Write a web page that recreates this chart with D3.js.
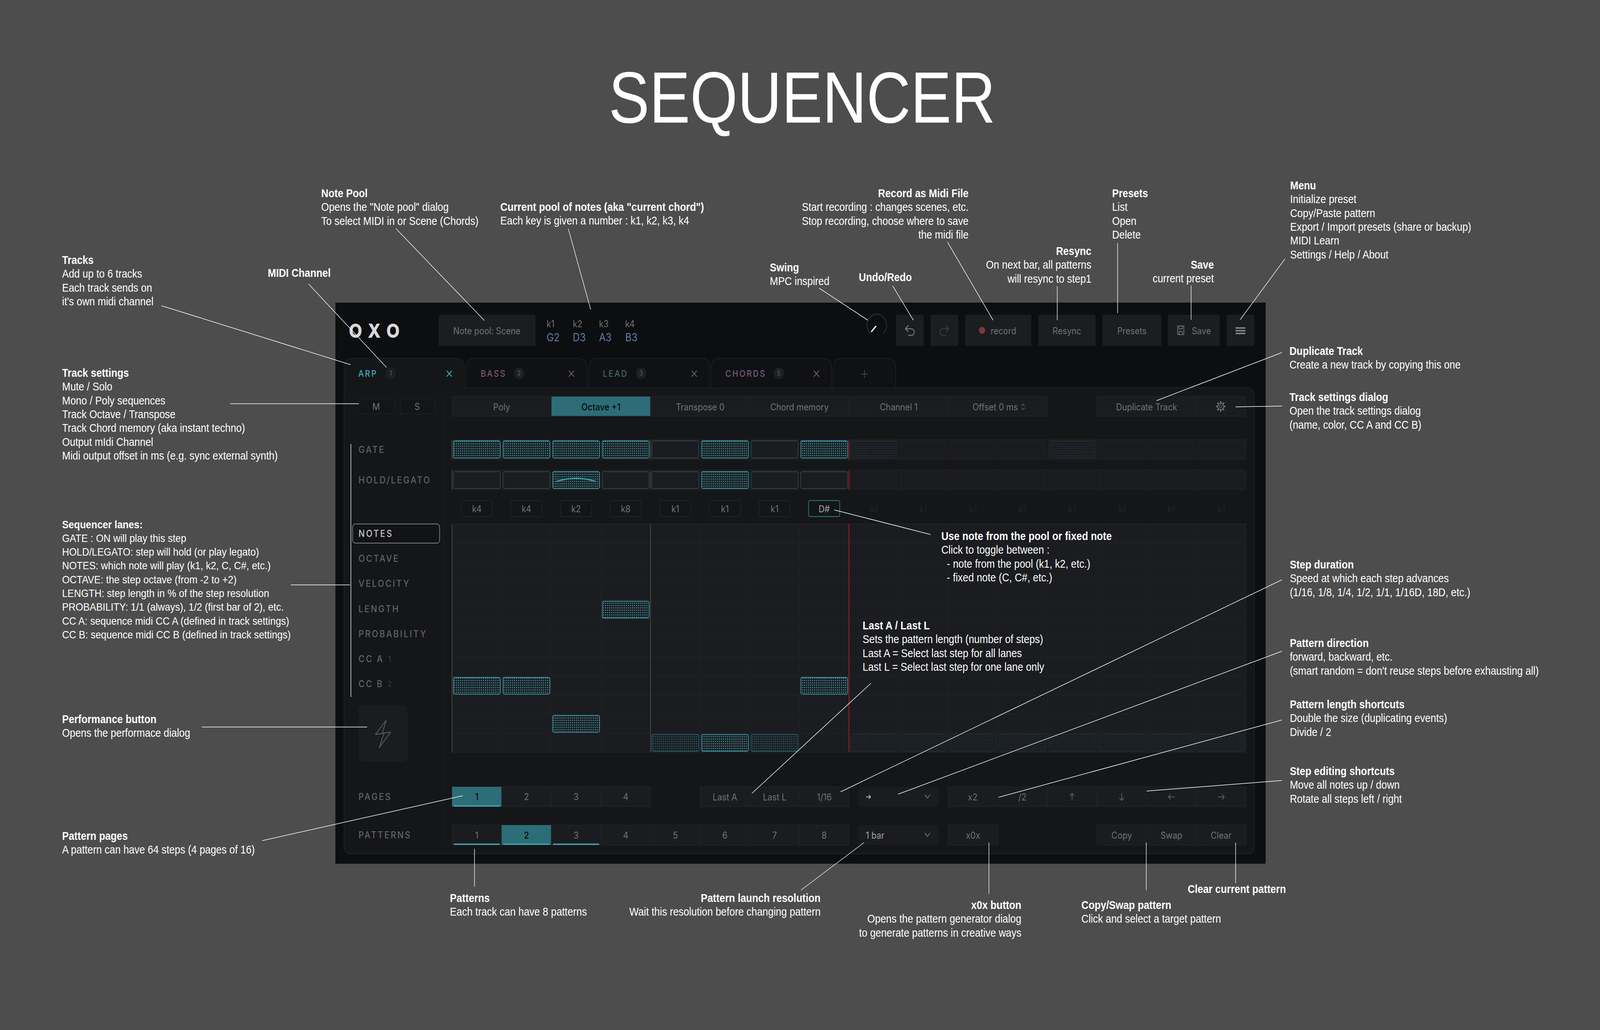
<!DOCTYPE html>
<html>
<head>
<meta charset="utf-8">
<script src="https://cdn.jsdelivr.net/npm/d3@7"></script>
<style>
  html, body { margin: 0; padding: 0; width: 100%; height: 100%; overflow: hidden; background: #4d4d4d; }
  #chart, svg { display: block; width: 100vw; height: 100vh; }
</style>
</head>
<body>
<div id="chart"></div>
<script>
// step data, one value per step of the first page
const gateOn = [1, 1, 1, 1, 0, 1, 0, 1]
const gateGhost = [8, 12]
const holdOn = [0, 0, 1, 0, 0, 1, 0, 0]
const legatoStep = 2
const noteKeys = ["k4", "k4", "k2", "k8", "k1", "k1", "k1", "D#"]
const noteRows = [8, 8, 10, 4, 11, 11, 11, 8]
const noteDim = [0, 0, 0, 0, 1, 0, 1, 0]
const ghostKey = "k1"
const ghostRow = 11

const poolKeys = ["k1", "k2", "k3", "k4"]
const poolNotes = ["G2", "D3", "A3", "B3"]
const trackNames = ["ARP", "BASS", "LEAD", "CHORDS"]
const trackNums = ["1", "2", "3", "5"]
const trackColors = ["#3fb0bc", "#7d5a68", "#3f6b62", "#7a5785"]
const modeLabels = ["Poly", "Octave +1", "Transpose 0", "Chord memory", "Channel 1", "Offset 0 ms"]
const laneLabels = ["NOTES", "OCTAVE", "VELOCITY", "LENGTH", "PROBABILITY", "CC A", "CC B"]
const pageLabels = ["1", "2", "3", "4"]
const patternLabels = ["1", "2", "3", "4", "5", "6", "7", "8"]
const usedPatterns = [0, 1, 2]

const annotations = [
  ["Tracks", "Add up to 6 tracks", "Each track sends on", "it's own midi channel"],
  ["Track settings", "Mute / Solo", "Mono / Poly sequences", "Track Octave / Transpose", "Track Chord memory (aka instant techno)", "Output mIdi Channel", "Midi output offset in ms (e.g. sync external synth)"],
  ["MIDI Channel"],
  ["Note Pool", "Opens the \"Note pool\" dialog", "To select MIDI in or Scene (Chords)"],
  ["Current pool of notes (aka \"current chord\")", "Each key is given a number : k1, k2, k3, k4"],
  ["Swing", "MPC inspired"],
  ["Undo/Redo"],
  ["Record as Midi File", "Start recording : changes scenes, etc.", "Stop recording, choose where to save", "the midi file"],
  ["Resync", "On next bar, all patterns", "will resync to step1"],
  ["Presets", "List", "Open", "Delete"],
  ["Save", "current preset"],
  ["Menu", "Initialize preset", "Copy/Paste pattern", "Export / Import presets (share or backup)", "MIDI Learn", "Settings / Help / About"],
  ["Duplicate Track", "Create a new track by copying this one"],
  ["Track settings dialog", "Open the track settings dialog", "(name, color, CC A and CC B)"],
  ["Sequencer lanes:", "GATE : ON will play this step", "HOLD/LEGATO: step will hold (or play legato)", "NOTES: which note will play (k1, k2, C, C#, etc.)", "OCTAVE: the step octave (from -2 to +2)", "LENGTH: step length in % of the step resolution", "PROBABILITY: 1/1 (always), 1/2 (first bar of 2), etc.", "CC A: sequence midi CC A (defined in track settings)", "CC B: sequence midi CC B (defined in track settings)"],
  ["Performance button", "Opens the performace dialog"],
  ["Pattern pages", "A pattern can have 64 steps (4 pages of 16)"],
  ["Patterns", "Each track can have 8 patterns"],
  ["Pattern launch resolution", "Wait this resolution before changing pattern"],
  ["x0x button", "Opens the pattern generator dialog", "to generate patterns in creative ways"],
  ["Copy/Swap pattern", "Click and select a target pattern"],
  ["Clear current pattern"],
  ["Step duration", "Speed at which each step advances", "(1/16, 1/8, 1/4, 1/2, 1/1, 1/16D, 18D, etc.)"],
  ["Pattern direction", "forward, backward, etc.", "(smart random = don't reuse steps before exhausting all)"],
  ["Pattern length shortcuts", "Double the size (duplicating events)", "Divide / 2"],
  ["Step editing shortcuts", "Move all notes up / down", "Rotate all steps left / right"],
  ["Use note from the pool or fixed note", "Click to toggle between :", "\u00a0\u00a0- note from the pool (k1, k2, etc.)", "\u00a0\u00a0- fixed note (C, C#, etc.)"],
  ["Last A / Last L", "Sets the pattern length (number of steps)", "Last A = Select last step for all lanes", "Last L = Select last step for one lane only"],
]

// where each annotation above sits: x, centre of first line, anchor
const annotationSpots = [
  [180, 666, "start"], [180, 955, "start"], [776, 699, "start"], [931, 495, "start"], [1450, 530, "start"],
  [2231, 685, "start"], [2489, 710, "start"], [2807, 495, "end"], [3163, 643, "end"], [3223, 495, "start"],
  [3518, 678, "end"], [3739, 475, "start"], [3737, 899, "start"], [3737, 1017, "start"], [180, 1343, "start"],
  [180, 1842, "start"], [180, 2141, "start"], [1304, 2300, "start"], [2378, 2300, "end"], [2960, 2318, "end"],
  [3134, 2318, "start"], [3442, 2277, "start"], [3738, 1446, "start"], [3738, 1647, "start"], [3738, 1804, "start"],
  [3738, 1975, "start"], [2728, 1373, "start"], [2500, 1602, "start"],
]

const leaders = [
  [468, 783, 1016, 934], [894, 727, 1120, 941], [1147, 585, 1404, 821], [667, 1034, 1040, 1034],
  [1647, 586, 1712, 793], [2374, 738, 2515, 820], [2587, 732, 2647, 820], [2746, 620, 2878, 820],
  [3064, 733, 3064, 820], [3239, 622, 3239, 802], [3452, 731, 3452, 819], [3724, 663, 3594, 819],
  [3715, 903, 3352, 1026], [3716, 1040, 3581, 1042], [2418, 1306, 2697, 1369], [2524, 1750, 2179, 2032],
  [3715, 1485, 2436, 2028], [3715, 1668, 2603, 2034], [3715, 1844, 2894, 2042], [3715, 1999, 3323, 2026],
  [1341, 2038, 760, 2153], [843, 1498, 1014, 1498], [1017, 1137, 1017, 1785], [585, 1862, 1064, 1862],
  [1375, 2174, 1375, 2271], [2504, 2158, 2321, 2280], [2866, 2158, 2866, 2289], [3322, 2158, 3322, 2280],
  [3581, 2158, 3581, 2262],
]

const width = 4637
const height = 2638

const teal = "#3ba6b2"
const tealFill = "#2c6d77"
const uiText = "#717276"
const cellBg = "#1b1c20"
const cellLine = "#232428"
const uiFont = "Inter, 'Noto Sans', sans-serif"
const noteFont = "'Liberation Sans', Arial, sans-serif"

const stepX = d3.scaleLinear().domain([0, 16]).range([1310, 3611])
const rowY = d3.scaleLinear().domain([0, 12]).range([1342, 1927])

// the browser window can be narrower than the chart, so the drawing always fills it
const svg = d3
  .select("#chart")
  .append("svg")
  .attr("viewBox", `0 0 ${width} ${height}`)
  .attr("preserveAspectRatio", "none")

const defs = svg.append("defs")
function dotPattern(id, color) {
  const p = defs
    .append("pattern")
    .attr("id", id)
    .attr("width", 6)
    .attr("height", 6)
    .attr("patternUnits", "userSpaceOnUse")
  p.append("circle").attr("cx", 3).attr("cy", 3).attr("r", 1.4).attr("fill", color)
}
dotPattern("dots", "#4ab5c1")
dotPattern("dotsMid", "#2b6f78")
dotPattern("dotsGhost", "#22343a")

svg.append("rect").attr("width", width).attr("height", height).attr("fill", "#4d4d4d")

svg
  .append("text")
  .attr("x", 1764)
  .attr("y", 314)
  .attr("font-family", noteFont)
  .attr("font-size", 186)
  .attr("textLength", 1121)
  .attr("lengthAdjust", "spacingAndGlyphs")
  .attr("fill", "#fff")
  .text("SEQUENCER")

// main window
svg.append("rect").attr("x", 972).attr("y", 775).attr("width", 2696).attr("height", 1437).attr("fill", "#0d0e10")

function uiLabel(parent, x, y, label, opts = {}) {
  return parent
    .append("text")
    .attr("x", x)
    .attr("y", y)
    .attr("dominant-baseline", "central")
    .attr("text-anchor", opts.anchor || "middle")
    .attr("font-family", uiFont)
    .attr("font-size", opts.size || 24)
    .attr("font-weight", opts.weight || 400)
    .attr("letter-spacing", opts.spacing || 0)
    .attr("fill", opts.fill || uiText)
    .text(label)
}

function box(parent, x0, y0, x1, y1, opts = {}) {
  return parent
    .append("rect")
    .attr("x", x0)
    .attr("y", y0)
    .attr("width", x1 - x0)
    .attr("height", y1 - y0)
    .attr("rx", opts.rx === undefined ? 3 : opts.rx)
    .attr("fill", opts.fill || cellBg)
    .attr("stroke", opts.stroke || "none")
    .attr("stroke-width", opts.strokeWidth || 1.5)
}

function iconPath(parent, d, opts = {}) {
  return parent
    .append("path")
    .attr("d", d)
    .attr("fill", "none")
    .attr("stroke", opts.stroke || uiText)
    .attr("stroke-width", opts.width || 2.5)
    .attr("stroke-linecap", "round")
    .attr("stroke-linejoin", "round")
    .attr("transform", opts.at ? `translate(${opts.at[0]},${opts.at[1]})` : null)
}

const ui = svg.append("g")

// tab bar
const tabEdges = [[997, 1346], [1352, 1700], [1706, 2056], [2061, 2410], [2415, 2596]]
const tabBadgeX = [1132, 1504, 1858, 2257]
const tabPath = (x0, x1, yBottom) =>
  `M${x0},${yBottom} V942 Q${x0},918 ${x0 + 24},918 H${x1 - 24} Q${x1},918 ${x1},942 V${yBottom}`

// content panel drawn below the tabs
ui.append("rect")
  .attr("x", 997)
  .attr("y", 993)
  .attr("width", 2638)
  .attr("height", 1194)
  .attr("rx", 18)
  .attr("fill", "#151618")
  .attr("stroke", "#222327")
  .attr("stroke-width", 2)

tabEdges.forEach(([x0, x1], i) => {
  ui.append("path")
    .attr("d", tabPath(x0, x1, i === 0 ? 1000 : 993))
    .attr("fill", i === 0 ? "#151618" : "#101114")
    .attr("stroke", "#1e1f23")
    .attr("stroke-width", 2)
  if (i >= trackNames.length) {
    iconPath(ui, "M-9,0 H9 M0,-9 V9", { at: [(x0 + x1) / 2, 958], stroke: "#46474b", width: 2 })
    return
  }
  const color = trackColors[i]
  uiLabel(ui, x0 + 41, 957, trackNames[i], { anchor: "start", size: 23, weight: 500, spacing: 3.4, fill: color })
  ui.append("circle").attr("cx", tabBadgeX[i]).attr("cy", 956).attr("r", 15).attr("fill", "#1e1f23")
  uiLabel(ui, tabBadgeX[i], 956, trackNums[i], { size: 17, fill: "#5d5e62" })
  iconPath(ui, "M-7,-7 L7,7 M7,-7 L-7,7", { at: [x1 - 44, 957], stroke: color, width: 2.4 })
})

// header
uiLabel(ui, 1011, 846, "O X O", { anchor: "start", size: 50, weight: 800, spacing: 2.5, fill: "#d8d8da" })

box(ui, 1271, 806, 1552, 886).attr("fill", "#1c1d21")
uiLabel(ui, 1411, 847, "Note pool: Scene")

poolKeys.forEach((k, i) => {
  const x = 1584 + i * 76
  uiLabel(ui, x, 829, k, { anchor: "start", size: 24, fill: "#717276" })
  uiLabel(ui, x, 863, poolNotes[i], { anchor: "start", size: 28, fill: "#5d7ba8" })
})

// swing knob
const knobArc = d3.arc().innerRadius(27).outerRadius(30).startAngle((-140 * Math.PI) / 180).endAngle((140 * Math.PI) / 180)
ui.append("path").attr("d", knobArc()).attr("transform", "translate(2541,833)").attr("fill", "#1f2a36")
iconPath(ui, "M2526,849 L2538,836", { stroke: "#e6e6e6", width: 4 })

const headerButtons = [
  [2597, 2677, ""], [2697, 2777, ""], [2797, 2989, ""], [3009, 3175, "Resync"], [3195, 3366, "Presets"], [3385, 3535, ""], [3555, 3635, ""],
]
headerButtons.forEach(([x0, x1, label]) => {
  box(ui, x0, 806, x1, 886).attr("fill", "#1c1d21")
  if (label) uiLabel(ui, (x0 + x1) / 2, 847, label)
})
iconPath(ui, "M-5,-12 L-13,-4 L-5,3 M-13,-4 H4 A8.5,8.5 0 0 1 4,13 H-4", { at: [2637, 846], stroke: "#77787c" })
iconPath(ui, "M5,-12 L13,-4 L5,3 M13,-4 H-4 A8.5,8.5 0 0 0 -4,13 H4", { at: [2737, 846], stroke: "#3a3b3f" })
ui.append("circle").attr("cx", 2846).attr("cy", 846).attr("r", 9).attr("fill", "#7a3a3c")
uiLabel(ui, 2871, 847, "record", { anchor: "start" })
iconPath(ui, "M-9,-11 H9 V11 H-9 Z M-5,-11 V-4 H5 V-11 M-5,11 V3 H5 V11", { at: [3422, 846], width: 2 })
uiLabel(ui, 3454, 847, "Save", { anchor: "start" })
iconPath(ui, "M-13,-7 H13 M-13,0 H13 M-13,7 H13", { at: [3595, 847], width: 3.5, stroke: "#8b8c90" })

// track row
box(ui, 1039, 1021, 1144, 1060, { fill: "#141518", stroke: "#1f2024" })
box(ui, 1161, 1021, 1260, 1060, { fill: "#141518", stroke: "#1f2024" })
uiLabel(ui, 1090, 1041, "M", { size: 24 })
uiLabel(ui, 1209, 1041, "S", { size: 24 })
ui.append("line").attr("x1", 1285).attr("x2", 1285).attr("y1", 1016).attr("y2", 2160).attr("stroke", "#222327").attr("stroke-width", 1.5)

const modeScale = d3.scaleBand().domain(modeLabels).range([1310, 3036])
modeLabels.forEach((m, i) => {
  const x0 = modeScale(m)
  const active = i === 1
  box(ui, x0, 1015, x0 + modeScale.bandwidth(), 1066, { rx: 0, fill: active ? tealFill : cellBg, stroke: cellLine })
  uiLabel(ui, x0 + modeScale.bandwidth() / 2 - (i === 5 ? 8 : 0), 1042, m, { fill: active ? "#05090b" : uiText, weight: active ? 500 : 400 })
})
iconPath(ui, "M-4,-3 L0,-7 L4,-3 M-4,3 L0,7 L4,3", { at: [2965, 1042], width: 1.6 })

box(ui, 3179, 1015, 3467, 1066, { rx: 0, stroke: cellLine })
box(ui, 3467, 1015, 3611, 1066, { rx: 0, stroke: cellLine })
uiLabel(ui, 3323, 1042, "Duplicate Track")
const gearTeeth = d3.range(8).map((i) => {
  const a = (i * Math.PI) / 4
  return `M${9 * Math.cos(a)},${9 * Math.sin(a)} L${12 * Math.cos(a)},${12 * Math.sin(a)}`
}).join(" ")
iconPath(ui, gearTeeth, { at: [3538, 1041], width: 4 })
ui.append("circle").attr("cx", 3538).attr("cy", 1041).attr("r", 8.5).attr("fill", "none").attr("stroke", uiText).attr("stroke-width", 2)
ui.append("circle").attr("cx", 3538).attr("cy", 1041).attr("r", 3.5).attr("fill", "none").attr("stroke", uiText).attr("stroke-width", 1.6)

// lane labels
const laneStyle = { anchor: "start", size: 24, weight: 500, spacing: 3.8, fill: "#626367" }
uiLabel(ui, 1039, 1151, "GATE", laneStyle)
uiLabel(ui, 1039, 1229, "HOLD/LEGATO", laneStyle)
box(ui, 1022, 1342, 1274, 1391, { rx: 8, fill: "#121316", stroke: "#7c7d80", strokeWidth: 2 })
const laneY = d3.scalePoint().domain(laneLabels).range([1366, 1751])
laneLabels.forEach((l) => {
  const isCurrent = l === "NOTES"
  uiLabel(ui, 1039, laneY(l), l, { ...laneStyle, fill: isCurrent ? "#c9cacc" : "#626367" })
})
uiLabel(ui, 1125, 1688, "1", { anchor: "start", size: 20, fill: "#3e3f43" })
uiLabel(ui, 1123, 1752, "2", { anchor: "start", size: 20, fill: "#3e3f43" })
uiLabel(ui, 1039, 2040, "PAGES", laneStyle)
uiLabel(ui, 1039, 2138, "PATTERNS", laneStyle)

box(ui, 1039, 1806, 1182, 1951, { rx: 12, fill: "#1b1c20" })
iconPath(ui, "M1119,1845 L1088,1881 L1113,1878 L1099,1915 L1132,1875 L1108,1878 Z", { stroke: "#55565a", width: 2.4 })

// gate and hold lanes
function stepCell(parent, i, y0, y1, kind) {
  const x0 = stepX(i) + 4
  const x1 = stepX(i + 1) - 4
  const style = {
    on: { fill: "url(#dots)", stroke: "#3a9aa6" },
    mid: { fill: "url(#dotsMid)", stroke: "#2a5f68" },
    off: { fill: cellBg, stroke: "#254a50" },
    ghostOn: { fill: "url(#dotsGhost)", stroke: "#1d2d31" },
    ghostOff: { fill: "#1a1b1e", stroke: "#1f2023" },
  }[kind]
  box(parent, x0, y0, x1, y1, { rx: 4, fill: cellBg })
  box(parent, x0, y0, x1, y1, { rx: 4, fill: style.fill, stroke: style.stroke, strokeWidth: 1.8 })
}

function laneBack(y0, y1) {
  box(ui, stepX(0), y0, stepX(16), y1, { rx: 0, fill: "#19191d", stroke: cellLine })
  ui.append("line").attr("x1", stepX(0)).attr("x2", stepX(0)).attr("y1", y0).attr("y2", y1).attr("stroke", "#4a4b4f").attr("stroke-width", 2)
  ui.append("line").attr("x1", stepX(4)).attr("x2", stepX(4)).attr("y1", y0).attr("y2", y1).attr("stroke", "#4a4b4f").attr("stroke-width", 2)
}

laneBack(1126, 1177)
laneBack(1204, 1254)
d3.range(16).forEach((i) => {
  if (i < 8) {
    stepCell(ui, i, 1129, 1173, gateOn[i] ? "on" : "off")
    stepCell(ui, i, 1208, 1251, holdOn[i] ? "on" : "off")
  } else {
    stepCell(ui, i, 1129, 1173, gateGhost.includes(i) ? "ghostOn" : "ghostOff")
    stepCell(ui, i, 1208, 1251, "ghostOff")
  }
})
ui.append("path")
  .attr("d", `M${stepX(legatoStep) + 16},1233 Q${stepX(legatoStep) + 72},1217 ${stepX(legatoStep) + 128},1233`)
  .attr("fill", "none")
  .attr("stroke", teal)
  .attr("stroke-width", 3)
  .attr("stroke-linecap", "round")

// note key row
d3.range(16).forEach((i) => {
  const cx = (stepX(i) + stepX(i + 1)) / 2
  if (i < 8) {
    const fixed = noteKeys[i] === "D#"
    box(ui, cx - 45, 1282, cx + 45, 1323, {
      rx: 4,
      fill: "#141518",
      stroke: fixed ? "#2f7883" : "#26272b",
      strokeWidth: fixed ? 2 : 1.5,
    })
    uiLabel(ui, cx, 1303, noteKeys[i], { size: 24, fill: fixed ? "#a4a5a8" : uiText })
  } else {
    uiLabel(ui, cx, 1303, ghostKey, { size: 24, fill: "#222327" })
  }
})

// note grid
box(ui, stepX(0), rowY(0), stepX(16), rowY(12), { rx: 0, fill: cellBg, stroke: cellLine })
d3.range(1, 12).forEach((r) => {
  ui.append("line").attr("x1", stepX(0)).attr("x2", stepX(16)).attr("y1", rowY(r)).attr("y2", rowY(r)).attr("stroke", "#212226").attr("stroke-width", 1.5)
})
d3.range(1, 16).forEach((c) => {
  ui.append("line").attr("x1", stepX(c)).attr("x2", stepX(c)).attr("y1", rowY(0)).attr("y2", rowY(12)).attr("stroke", c === 4 ? "#4a4b4f" : "#212226").attr("stroke-width", c === 4 ? 2 : 1.5)
})
ui.append("line").attr("x1", stepX(0)).attr("x2", stepX(0)).attr("y1", rowY(0)).attr("y2", rowY(12)).attr("stroke", "#4a4b4f").attr("stroke-width", 2)

d3.range(16).forEach((i) => {
  const row = i < 8 ? noteRows[i] : ghostRow
  const kind = i >= 8 ? "ghostOn" : noteDim[i] ? "mid" : "on"
  stepCell(ui, i, rowY(row) + 3, rowY(row + 1) - 3, kind)
})

// last step marker
;[[1126, 1177], [1204, 1254], [1342, 1927]].forEach(([y0, y1]) => {
  ui.append("line").attr("x1", stepX(8)).attr("x2", stepX(8)).attr("y1", y0).attr("y2", y1).attr("stroke", "#8f1f28").attr("stroke-width", 2.6)
})

// bottom rows
function selectorRow(labels, y0, y1, active, underlined) {
  labels.forEach((l, i) => {
    const x0 = stepX(i)
    const x1 = stepX(i + 1)
    const on = i === active
    box(ui, x0, y0, x1, y1, { rx: 0, fill: on ? tealFill : cellBg, stroke: on ? "none" : cellLine })
    uiLabel(ui, (x0 + x1) / 2, (y0 + y1) / 2, l, { size: 24, weight: on ? 500 : 400, fill: on ? "#05090b" : uiText })
    if (underlined.includes(i)) {
      box(ui, x0 + 5, y1 - 3.5, x1 - 5, y1, { rx: 0, fill: teal })
    }
  })
}
selectorRow(pageLabels, 2015, 2066, 0, [0])
selectorRow(patternLabels, 2113, 2164, 1, usedPatterns)

const editCells = [
  [2029, 2173, "Last A"], [2173, 2317, "Last L"], [2317, 2461, "1/16"],
  [2747, 2891, "x2"], [2891, 3035, "/2"],
]
editCells.forEach(([x0, x1, label]) => {
  box(ui, x0, 2015, x1, 2066, { rx: 0, stroke: cellLine })
  uiLabel(ui, (x0 + x1) / 2, 2041, label)
})
const arrowCells = [
  [3035, "M0,9 V-9 M-6,-3 L0,-9 L6,-3"],
  [3179, "M0,-9 V9 M-6,3 L0,9 L6,3"],
  [3323, "M9,0 H-9 M-3,-6 L-9,0 L-3,6"],
  [3467, "M-9,0 H9 M3,-6 L9,0 L3,6"],
]
arrowCells.forEach(([x0, d]) => {
  box(ui, x0, 2015, x0 + 144, 2066, { rx: 0, stroke: cellLine })
  iconPath(ui, d, { at: [x0 + 72, 2041], width: 2.2, stroke: "#5d5e62" })
})

box(ui, 2489, 2015, 2720, 2066, { rx: 8 })
box(ui, 2489, 2113, 2720, 2164, { rx: 8 })
iconPath(ui, "M-6,0 H6 M2,-4 L6,0 L2,4", { at: [2517, 2041], width: 2.6, stroke: "#a4a5a8" })
uiLabel(ui, 2509, 2139, "1 bar", { anchor: "start", fill: "#a4a5a8" })
iconPath(ui, "M-7,-4 L0,4 L7,-4", { at: [2688, 2040], width: 2 })
iconPath(ui, "M-7,-4 L0,4 L7,-4", { at: [2688, 2138], width: 2 })

box(ui, 2747, 2113, 2893, 2164, { rx: 0, stroke: cellLine })
uiLabel(ui, 2820, 2139, "x0x")
const patternTools = [
  [3179, 3323, "Copy"], [3323, 3467, "Swap"], [3467, 3611, "Clear"],
]
patternTools.forEach(([x0, x1, label]) => {
  box(ui, x0, 2113, x1, 2164, { rx: 0, stroke: cellLine })
  uiLabel(ui, (x0 + x1) / 2, 2139, label)
})

// annotations on top of the screenshot
const leaderG = svg.append("g")
leaderG
  .selectAll("line")
  .data(leaders)
  .enter()
  .append("line")
  .attr("x1", (d) => d[0])
  .attr("y1", (d) => d[1])
  .attr("x2", (d) => d[2])
  .attr("y2", (d) => d[3])
  .attr("stroke", "#fff")
  .attr("stroke-width", 1.5)

const noteG = svg.append("g")
annotations.forEach((lines, i) => {
  const [x, y, anchor] = annotationSpots[i]
  const block = noteG.append("g")
  // the lanes block runs a little tighter than the others in the reference
  const size = lines[0] === "Sequencer lanes:" ? 28.2 : 28.8
  lines.forEach((line, j) => {
    block
      .append("text")
      .attr("x", x)
      .attr("y", y + j * 35.3)
      .attr("dominant-baseline", "central")
      .attr("text-anchor", anchor)
      .attr("font-family", noteFont)
      .attr("font-size", size)
      .attr("font-weight", j === 0 ? 700 : 400)
      .attr("fill", "#fff")
      .text(line)
  })
})
</script>
</body>
</html>
